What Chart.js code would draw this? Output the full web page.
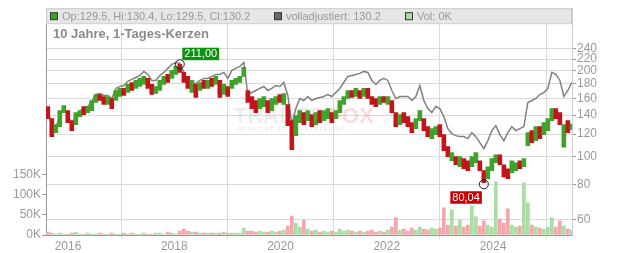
<!DOCTYPE html>
<html><head><meta charset="utf-8">
<script src="https://cdn.jsdelivr.net/npm/chart.js@4"></script>
<style>html,body{margin:0;padding:0;background:#fff}#wrap{width:632px;height:253px}</style>
</head><body><div id="wrap"><canvas id="c" width="632" height="253"></canvas></div>
<script>
// time axis (decimal years), one candle per ~4 weeks
const x0 = 2015.62, dx = 0.0753;
const open = [
149.9,136.0,121.4,127.5,142.8,145.1,133.8,129.6,138.2,149.9,
142.8,145.1,154.9,165.2,162.6,152.4,160.0,157.4,162.6,173.5,
167.9,182.1,173.5,176.3,179.2,188.1,179.2,166.6,170.7,179.2,
194.3,188.1,194.3,210.7,197.5,191.2,167.9,179.2,170.7,185.1,
173.5,188.1,179.2,185.1,165.2,176.3,173.5,179.2,182.1,191.2,
170.7,162.6,157.4,147.5,149.9,157.4,145.1,152.4,165.2,152.4,
152.4,133.8,118.5,131.7,142.8,133.8,140.5,129.6,145.1,133.8,
136.0,142.8,136.0,142.8,152.4,160.0,170.7,162.6,170.7,162.6,
173.5,162.6,160.0,152.4,162.6,152.4,157.4,142.8,129.6,142.8,
138.2,131.7,125.4,133.8,136.0,127.5,115.7,119.5,129.6,119.5,
108.4,96.8,100.0,92.2,98.4,96.8,92.2,95.2,96.8,89.3,
83.7,89.3,95.2,101.6,93.7,90.7,87.8,89.3,96.8,92.2,
109.3,123.4,113.8,127.5,119.5,123.4,133.8,147.5,142.8,108.0,
133.8,124.4];
const close = [
136.0,117.6,129.6,145.1,151.2,131.7,123.4,142.8,145.1,140.5,
149.9,157.4,165.2,157.4,152.4,162.6,147.5,170.7,173.5,163.9,
179.2,170.7,185.1,188.1,191.2,173.5,165.2,176.3,185.1,191.2,
182.1,200.7,207.3,197.5,182.1,173.5,185.1,161.3,182.1,173.5,
185.1,176.3,191.2,161.3,179.2,162.6,185.1,188.1,191.2,205.6,
154.9,147.5,142.8,160.0,162.6,142.8,160.0,162.6,154.9,166.6,
128.5,105.8,139.4,145.1,129.6,145.1,127.5,142.8,131.7,145.1,
147.5,131.7,145.1,157.4,162.6,170.7,161.3,173.5,160.0,173.5,
160.0,152.4,149.9,162.6,154.9,162.6,142.8,127.5,140.5,131.7,
127.5,121.4,136.0,145.1,123.4,117.6,125.4,127.5,117.6,104.9,
100.0,103.3,93.7,100.0,90.7,89.3,100.0,103.3,89.3,81.0,
92.2,98.4,101.6,93.7,85.0,83.7,96.8,95.2,90.7,98.4,
121.4,112.0,127.5,115.7,131.7,136.0,147.5,136.0,129.6,129.6,
121.4,130.2];
const adjusted = [
145.1,128.5,126.4,139.4,148.7,140.5,129.6,139.4,144.0,148.7,
149.9,156.2,165.2,166.6,163.9,163.9,160.0,173.5,176.3,177.7,
183.6,186.6,189.6,192.7,199.1,194.3,185.1,185.1,192.7,197.5,
204.0,210.7,214.0,212.3,197.5,185.1,182.1,180.6,185.1,188.1,
188.1,191.2,194.3,194.3,197.5,188.1,200.7,204.0,207.3,214.0,
165.2,167.9,170.7,173.5,176.3,170.7,173.5,177.7,176.3,182.1,
163.9,129.6,147.5,160.0,157.4,162.6,157.4,160.0,161.3,162.6,
165.2,162.6,167.9,173.5,182.1,191.2,192.7,194.3,195.9,199.1,
197.5,185.1,179.2,185.1,188.1,185.1,170.7,160.0,162.6,162.6,
162.6,157.4,162.6,177.7,157.4,147.5,142.8,149.9,147.5,138.2,
125.4,120.5,118.5,117.6,117.6,115.7,121.4,117.6,112.0,106.7,
113.8,123.4,128.5,119.5,113.8,121.4,127.5,123.4,125.4,127.5,
154.9,157.4,160.0,165.2,167.9,173.5,197.5,194.3,185.1,162.6,
170.7,182.1];
const volumeK = [
7.4,5.0,2.5,5.0,2.5,2.5,5.0,7.4,2.5,2.5,
5.0,2.5,2.5,5.0,2.5,2.5,5.0,2.5,2.5,5.0,
2.5,5.0,2.5,2.5,5.0,2.5,2.5,5.0,5.0,2.5,
7.4,5.0,2.5,9.9,14.9,9.9,7.4,7.4,5.0,5.0,
5.0,5.0,5.0,5.0,7.4,5.0,5.0,5.0,5.0,17.3,
9.9,9.9,7.4,9.9,7.4,7.4,9.9,7.4,9.9,12.4,
22.3,47.0,29.7,19.8,37.1,14.9,9.9,12.4,7.4,9.9,
7.4,9.9,7.4,14.9,9.9,12.4,9.9,7.4,9.9,7.4,
9.9,12.4,7.4,9.9,7.4,12.4,19.8,42.1,12.4,14.9,
9.9,17.3,12.4,19.8,14.9,12.4,17.3,14.9,17.3,66.8,
24.8,61.9,22.3,37.1,19.8,24.8,71.8,44.6,22.3,34.7,
24.8,19.8,131.2,39.6,29.7,64.4,24.8,19.8,22.3,128.7,
79.2,24.8,19.8,17.3,14.9,19.8,42.1,19.8,34.7,22.3,
14.9,12.4];
const yearTicks = [2016, 2018, 2020, 2022, 2024];
const priceTicks = [60, 80, 100, 120, 140, 160, 180, 200, 220, 240];
const volumeTicks = [0, 50, 100, 150];
const highMark = { index: 33, value: 211.00 };
const lowMark = { index: 109, value: 80.04 };
const titleText = '10 Jahre, 1-Tages-Kerzen';
const headerItems = [
  { text: 'Op:129.5, Hi:130.4, Lo:129.5, Cl:130.2', color: '#3c9f2a' },
  { text: 'volladjustiert: 130.2', color: '#6a6a6a' },
  { text: 'Vol: 0K', color: '#aadca3' }
];

const FONT = '"Liberation Sans", Arial, sans-serif';
const RED = '#c3141c', GREEN = '#40a22a', VRED = '#f2a6ad', VGREEN = '#aadca3';
const times = open.map((_, i) => +(x0 + i * dx).toFixed(4));
const up = open.map((o, i) => close[i] >= o);

const decor = {
  id: 'decor',
  beforeDatasetsDraw(chart) {
    const { ctx, chartArea: a } = chart;
    ctx.save();
    // watermark
    ctx.textBaseline = 'alphabetic';
    ctx.font = 'bold 22px ' + FONT;
    ctx.fillStyle = 'rgba(190,190,190,0.28)';
    ctx.fillText('TRADER', 234, 123);
    const w = ctx.measureText('TRADER').width;
    ctx.fillStyle = 'rgba(240,110,120,0.25)';
    ctx.fillText('FOX', 234 + w + 3, 123);
    ctx.font = 'bold 5px ' + FONT;
    ctx.fillStyle = 'rgba(190,190,190,0.35)';
    ctx.fillText('R E A L T I M E   S T O C K   S C R E E N I N G', 238, 131);
    // header bar
    ctx.fillStyle = '#e6e6e6';
    ctx.fillRect(a.left, a.top, a.right - a.left, 15);
    ctx.strokeStyle = '#cccccc';
    ctx.lineWidth = 1;
    ctx.strokeRect(a.left + 0.5, a.top + 0.5, a.right - a.left - 1, 15);
    const xs = [50, 274, 405];
    ctx.font = '11px ' + FONT;
    ctx.textBaseline = 'middle';
    headerItems.forEach((it, k) => {
      ctx.fillStyle = it.color;
      ctx.fillRect(xs[k], a.top + 4.5, 7, 7);
      ctx.strokeStyle = '#333';
      ctx.strokeRect(xs[k] + 0.5, a.top + 4.5, 7, 7);
      ctx.fillStyle = '#999';
      ctx.fillText(it.text, xs[k] + 12, a.top + 8.5);
    });
    // title
    ctx.font = 'bold 13px ' + FONT;
    ctx.fillStyle = '#8a8a8a';
    ctx.textBaseline = 'alphabetic';
    ctx.fillText(titleText, 53, 38);
    ctx.restore();
  },
  afterDatasetsDraw(chart) {
    const { ctx } = chart;
    const xs = chart.scales.x, ys = chart.scales.y;
    ctx.save();
    const draw = (m, bg, above) => {
      const cx = xs.getPixelForValue(times[m.index]);
      const cy = ys.getPixelForValue(m.value);
      ctx.beginPath();
      ctx.arc(cx, cy, 4.5, 0, Math.PI * 2);
      ctx.strokeStyle = '#222';
      ctx.lineWidth = 1;
      ctx.stroke();
      const txt = m.value.toFixed(2).replace('.', ',');
      ctx.font = '11px ' + FONT;
      const bw = ctx.measureText(txt).width + 4;
      const bx = above ? cx + 2.5 : cx - 2 - bw;
      const by = above ? cy - 16.5 : cy + 7;
      ctx.fillStyle = bg;
      ctx.fillRect(bx, by, bw, 12.5);
      ctx.fillStyle = '#fff';
      ctx.textBaseline = 'middle';
      ctx.fillText(txt, bx + 2, by + 6.5);
    };
    draw(highMark, '#0d920d', true);
    draw(lowMark, '#cc0000', false);
    ctx.restore();
  }
};

new Chart(document.getElementById('c'), {
  type: 'bar',
  data: {
    datasets: [
      { type: 'line', data: times.map((t, i) => ({ x: t, y: adjusted[i] })), yAxisID: 'y',
        borderColor: '#808080', borderWidth: 1.5, pointRadius: 0, tension: 0, order: 3 },
      { type: 'bar', data: times.map((t, i) => ({ x: t, y: volumeK[i] })), yAxisID: 'yv',
        backgroundColor: up.map(u => u ? VGREEN : VRED), barThickness: 3, grouped: false, order: 2 },
      { type: 'bar', data: times.map((t, i) => ({ x: t, y: [open[i], close[i]] })), yAxisID: 'y',
        backgroundColor: up.map(u => u ? GREEN : RED), barThickness: 4, grouped: false, order: 1 }
    ]
  },
  options: {
    responsive: false, animation: false, events: [],
    layout: { padding: { top: 8, left: 0, right: 0, bottom: 0 } },
    plugins: { legend: { display: false }, tooltip: { enabled: false } },
    scales: {
      x: {
        type: 'linear', min: 2015.586, max: 2025.487, offset: false,
        afterBuildTicks: s => { s.ticks = yearTicks.map(v => ({ value: v })); },
        ticks: { callback: v => String(v), color: '#999', font: { size: 12, family: FONT }, padding: 0, maxRotation: 0, autoSkip: false },
        grid: { color: '#d9d9d9', tickColor: '#d9d9d9', tickLength: 4 },
        border: { display: true, color: '#999' },
        afterFit: s => { s.height = 18; }
      },
      y: {
        type: 'logarithmic', position: 'right', min: 53.13, max: 331.7,
        afterBuildTicks: s => { s.ticks = priceTicks.map(v => ({ value: v })); },
        ticks: { callback: v => String(v), color: '#999', font: { size: 12, family: FONT }, padding: 1, autoSkip: false },
        grid: { color: '#d9d9d9', tickColor: '#999', tickLength: 4 },
        border: { display: true, color: '#cccccc' },
        afterFit: s => { s.width = 60; }
      },
      yv: {
        type: 'linear', position: 'left', min: 0, max: 560,
        afterBuildTicks: s => { s.ticks = volumeTicks.map(v => ({ value: v })); },
        ticks: { callback: v => v + 'K', color: '#999', font: { size: 12, family: FONT }, padding: 1, autoSkip: false },
        grid: { drawOnChartArea: false, tickColor: '#999', tickLength: 4 },
        border: { display: true, color: '#999' },
        afterFit: s => { s.width = 46; }
      }
    }
  },
  plugins: [decor]
});
</script>
</body></html>
